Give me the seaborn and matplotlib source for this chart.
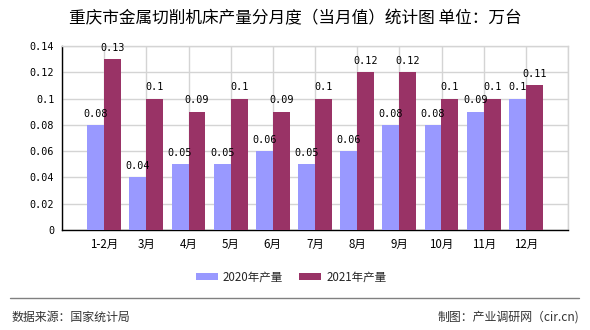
import matplotlib
matplotlib.use("Agg")
import matplotlib.pyplot as plt
from matplotlib.lines import Line2D
import seaborn as sns
import pandas as pd

months = ["1-2月", "3月", "4月", "5月", "6月", "7月", "8月", "9月", "10月", "11月", "12月"]
series_names = ["2020年产量", "2021年产量"]
values_2020 = [0.08, 0.04, 0.05, 0.05, 0.06, 0.05, 0.06, 0.08, 0.08, 0.09, 0.1]
values_2021 = [0.13, 0.1, 0.09, 0.1, 0.09, 0.1, 0.12, 0.12, 0.1, 0.1, 0.11]
y_ticks = [0, 0.02, 0.04, 0.06, 0.08, 0.1, 0.12, 0.14]
colors = ["#9999FF", "#993366"]
title = "重庆市金属切削机床产量分月度（当月值）统计图 单位：万台"
source_text = "数据来源：国家统计局"
credit_text = "制图：产业调研网（cir.cn)"

df = pd.DataFrame({
    "month": months * 2,
    "value": values_2020 + values_2021,
    "series": [series_names[0]] * len(months) + [series_names[1]] * len(months),
})

sns.set_style("white")
cjk = ["Noto Sans CJK SC", "DejaVu Sans"]
mono = ["DejaVu Sans Mono"]
plt.rcParams["font.family"] = cjk

W, H = 590, 330
fig = plt.figure(figsize=(W / 100, H / 100), dpi=100)
ax = fig.add_axes([62 / W, 1 - 230 / H, (568 - 62) / W, (230 - 46) / H])

sns.barplot(data=df, x="month", y="value", hue="series", order=months,
            hue_order=series_names, palette=colors, width=0.8, gap=0,
            saturation=1, linewidth=0, ax=ax, legend=False, zorder=3)

ax.set_xlim(-1, len(months))
ax.set_ylim(0, 0.14)
ax.set_xticks(range(-1, len(months) + 1))
ax.set_xticklabels([""] + months + [""], fontsize=8.3, family=cjk)
ax.set_yticks(y_ticks)
ax.set_yticklabels([f"{v:g}" for v in y_ticks], fontsize=7.3, family=mono)
ax.set_xlabel("")
ax.set_ylabel("")

ax.grid(True, axis="both", color="#d4d4d4", linewidth=1, zorder=0)
ax.set_axisbelow(True)
for s in ["left", "bottom"]:
    ax.spines[s].set_color("black")
    ax.spines[s].set_linewidth(1)
for s in ["right", "top"]:
    ax.spines[s].set_color("#d4d4d4")
    ax.spines[s].set_linewidth(1)
ax.tick_params(axis="both", direction="out", length=3.5, width=1, color="black",
               labelcolor="black", pad=2)
ax.tick_params(axis="x", pad=2.5)

for cont, vals in zip(ax.containers, [values_2020, values_2021]):
    ax.bar_label(cont, labels=[f"{v:g}" for v in vals], padding=4.5,
                 fontsize=7.3, family=mono, color="black")

handles = [plt.Rectangle((0, 0), 1, 1, facecolor=c, edgecolor="none") for c in colors]
fig.legend(handles, series_names, loc="center", bbox_to_anchor=(291 / W, 1 - 277 / H),
           ncol=2, frameon=False, fontsize=8.3, handlelength=1.9, handleheight=0.6,
           handletextpad=0.45, columnspacing=1.4, borderaxespad=0, borderpad=0)

fig.text(295 / W, 1 - 19 / H, title, ha="center", va="center", fontsize=12,
         color="black", family=cjk)

fig.add_artist(Line2D([10 / W, 579 / W], [1 - 298 / H, 1 - 298 / H],
                      transform=fig.transFigure, color="#808080", linewidth=1))
fig.text(12 / W, 1 - 317 / H, source_text, ha="left", va="center", fontsize=8.6,
         color="#333333", family=cjk)
fig.text(579 / W, 1 - 317 / H, credit_text, ha="right", va="center", fontsize=8.6,
         color="#333333", family=cjk)

fig.savefig("out.png", dpi=100, facecolor="white")
